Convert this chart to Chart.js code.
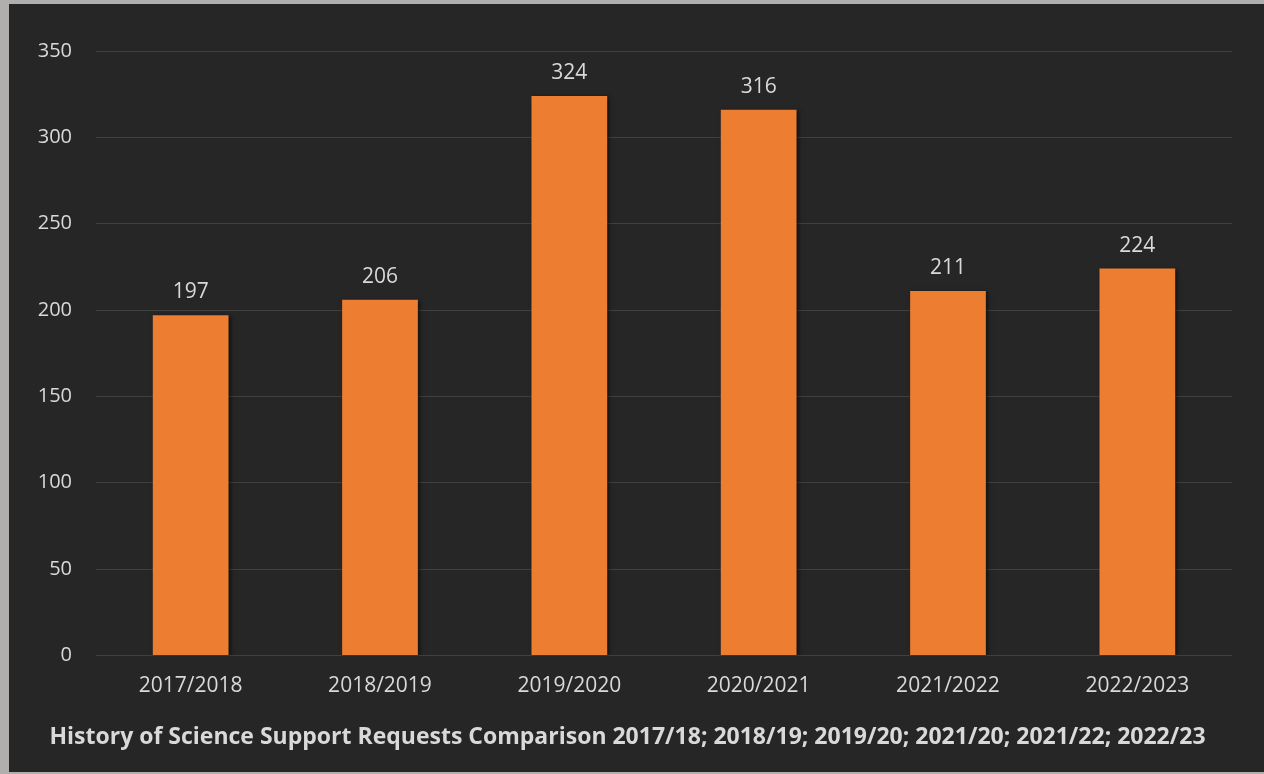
<!DOCTYPE html>
<html lang="en">
  <head>
    <meta charset="UTF-8">
    <script src="https://cdn.jsdelivr.net/npm/chart.js"></script>
    <title>Science Support Requests</title>
    <style>
      html, body{margin: 0; padding: 0; background: #b1afad;}
      #wrap{position: absolute; left: 9px; top: 4px; width: 1255px; height: 768px; background: #262626;}
    </style>
    <script>
      // 연도별 요청 건수
      const years = ['2017/2018', '2018/2019', '2019/2020', '2020/2021', '2021/2022', '2022/2023'];
      const requests = [197, 206, 324, 316, 211, 224];
      const yTicks = [0, 50, 100, 150, 200, 250, 300, 350];
      const chartTitle = 'History of Science Support Requests Comparison 2017/18; 2018/19; 2019/20; 2021/20; 2021/22; 2022/23';

      const textColor = '#d9d9d9';
      const fontFamily = '"Open Sans", "DejaVu Sans", sans-serif';

      // 막대 위에 값 표시
      const valueLabels = {
        id: 'valueLabels',
        afterDatasetsDraw(chart){
          const ctx = chart.ctx;
          const meta = chart.getDatasetMeta(0);
          ctx.save();
          ctx.font = '21px ' + fontFamily;
          ctx.fillStyle = textColor;
          ctx.textAlign = 'center';
          ctx.textBaseline = 'middle';
          meta.data.forEach(function(bar, i){
            ctx.fillText(String(requests[i]), bar.x, bar.y - 23);
          });
          ctx.restore();
        }
      };

      // 막대 그림자
      const barShadow = {
        id: 'barShadow',
        beforeDatasetsDraw(chart){
          const ctx = chart.ctx;
          ctx.save();
          ctx.shadowColor = 'rgba(0,0,0,0.55)';
          ctx.shadowBlur = 4;
          ctx.shadowOffsetX = 2;
          ctx.shadowOffsetY = 1;
        },
        afterDatasetsDraw(chart){
          chart.ctx.restore();
        }
      };

      window.addEventListener('load', function(){
        const ctx = document.getElementById('myChart');
        new Chart(ctx, {
          type: 'bar',
          data: {
            labels: years,
            datasets: [{
              data: requests,
              backgroundColor: '#ed7d31',
              borderWidth: 0,
              barPercentage: 0.4,
              categoryPercentage: 1.0
            }]
          },
          options: {
            responsive: true,
            maintainAspectRatio: false,
            animation: false,
            layout: {padding: {top: 47, right: 32, left: 14, bottom: 0}},
            plugins: {
              legend: {display: false},
              tooltip: {enabled: false},
              title: {
                display: true,
                position: 'bottom',
                text: chartTitle,
                color: textColor,
                font: {family: fontFamily, size: 23, weight: 'bold'},
                padding: {top: 18, bottom: 21}
              }
            },
            scales: {
              x: {
                grid: {display: false, drawTicks: false},
                border: {display: false},
                ticks: {color: textColor, font: {family: fontFamily, size: 21}, padding: 18},
                afterFit(scale){ scale.height = 50; }
              },
              y: {
                min: 0,
                max: 350,
                afterBuildTicks(scale){
                  scale.ticks = yTicks.map(function(v){ return {value: v}; });
                },
                grid: {color: '#404040', lineWidth: 1, drawTicks: false},
                border: {display: false},
                ticks: {color: textColor, font: {family: fontFamily, size: 20}, padding: 24},
                afterFit(scale){ scale.width = 73; }
              }
            }
          },
          plugins: [barShadow, valueLabels]
        });
      });
    </script>
  </head>
  <body>
    <div id="wrap">
      <canvas id="myChart"></canvas>
    </div>
  </body>
</html>
